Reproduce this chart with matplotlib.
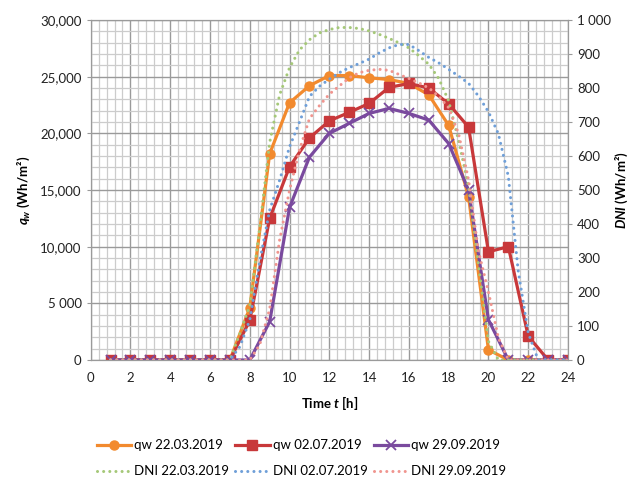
import matplotlib.pyplot as plt
from matplotlib.ticker import FixedLocator, MultipleLocator

plt.rcParams['font.family'] = ['Lato', 'DejaVu Sans']
plt.rcParams['mathtext.fontset'] = 'custom'
plt.rcParams['mathtext.it'] = 'Lato:bold:italic'
plt.rcParams['mathtext.rm'] = 'Lato:bold'

# hourly heat flux q_w (Wh/m2)
hours = list(range(1, 25))
qw_2203 = [0, 0, 0, 0, 0, 0, 0, 4600, 18200, 22700, 24200, 25100, 25100, 24900,
           24750, 24400, 23400, 20700, 14400, 900, 0, 0, 0, 0]
qw_0207 = [0, 0, 0, 0, 0, 0, 0, 3500, 12500, 17050, 19600, 21100, 21850, 22640,
           24050, 24400, 24000, 22600, 20550, 9550, 10000, 2100, 0, 0]
qw_2909 = [0, 0, 0, 0, 0, 0, 0, 0, 3380, 13470, 17900, 20000, 20880, 21760,
           22200, 21760, 21170, 19100, 14990, 3550, 0, 0, 0, 0]

# DNI (Wh/m2), read every half hour over daylight
dni_t_2203 = [1, 2, 3, 4, 5, 6, 7, 7.5, 8, 8.5, 9, 9.5, 10, 10.5, 11, 11.5, 12,
              12.5, 13, 13.5, 14, 14.5, 15, 15.5, 16, 16.5, 17, 17.5, 18, 18.5,
              19, 19.5, 20, 20.5, 21, 22, 23, 24]
dni_2203 = [0, 0, 0, 0, 0, 0, 0, 78, 160, 390, 640, 780, 860, 912, 942, 962, 972,
            978, 978, 975, 968, 958, 946, 933, 918, 895, 870, 828, 762, 645,
            510, 280, 55, 0, 0, 0, 0, 0]

dni_t_0207 = [1, 2, 3, 4, 5, 6, 7, 7.5, 8, 8.5, 9, 9.5, 10, 10.5, 11, 11.5, 12,
              12.5, 13, 13.5, 14, 14.5, 15, 15.5, 16, 16.5, 17, 17.5, 18, 18.5,
              19, 19.5, 20, 20.5, 21, 21.5, 22, 22.5, 23, 24]
dni_0207 = [0, 0, 0, 0, 0, 0, 0, 39, 118, 290, 441, 529, 627, 700, 775, 805, 826,
            845, 860, 872, 885, 903, 918, 928, 928, 910, 890, 874, 855, 835,
            814, 776, 730, 665, 540, 260, 80, 0, 0, 0]

dni_t_2909 = [1, 2, 3, 4, 5, 6, 7, 8, 8.5, 9, 9.5, 10, 10.5, 11, 11.5, 12, 12.5,
              13, 13.5, 14, 14.5, 15, 15.5, 16, 16.5, 17, 17.5, 18, 18.5, 19,
              19.5, 20, 20.5, 21, 22, 23, 24]
dni_2909 = [0, 0, 0, 0, 0, 0, 0, 0, 45, 150, 353, 500, 618, 710, 748, 782, 806,
            830, 845, 852, 855, 852, 840, 828, 815, 800, 776, 742, 665, 530,
            320, 200, 65, 0, 0, 0, 0]

left_ticks = [0, 5000, 10000, 15000, 20000, 25000, 30000]
left_labels = ['0', '5 000', '10,000', '15,000', '20,000', '25,000', '30,000']
right_ticks = [0, 100, 200, 300, 400, 500, 600, 700, 800, 900, 1000]
right_labels = ['0', '100', '200', '300', '400', '500', '600', '700', '800',
                '900', '1 000']

fig = plt.figure(figsize=(6.35, 4.8), dpi=100)
ax = fig.add_axes([0.1428, 0.25, 0.7517, 0.7083])

ax.set_xlim(0, 24)
ax.set_ylim(0, 30000)
ax.xaxis.set_major_locator(MultipleLocator(2))
ax.xaxis.set_minor_locator(MultipleLocator(0.4))
ax.yaxis.set_major_locator(FixedLocator(left_ticks))
ax.yaxis.set_minor_locator(MultipleLocator(1000))
ax.set_yticklabels(left_labels)
ax.grid(which='major', color='#9a9a9a', lw=1.0)
ax.grid(which='minor', color='#cccccc', lw=0.9)
ax.set_axisbelow(True)
for s in ax.spines.values():
    s.set_color('#9a9a9a')
ax.tick_params(which='both', length=0, labelsize=9.5, colors='#222222')
ax.tick_params(axis='x', pad=9)
ax.tick_params(axis='y', which='major', length=3, color='#9a9a9a')

ax.plot(hours, qw_2203, color='#f28a2e', lw=2.3, marker='o', ms=6.5,
        label='qw 22.03.2019', zorder=3)
ax.plot(hours, qw_0207, color='#c8383a', lw=2.3, marker='s', ms=7,
        label='qw 02.07.2019', zorder=3)
ax.plot(hours, qw_2909, color='#7a4a9e', lw=2.3, marker='x', ms=7, mew=1.3,
        label='qw 29.09.2019', zorder=3)

ax.set_xlabel('Time $t$ [h]', fontweight='bold', fontsize=9.5, labelpad=7)
ax.set_ylabel('$q_w$ (Wh/m²)', fontweight='bold', fontsize=9.5, labelpad=6)

ax2 = ax.twinx()
ax2.set_ylim(0, 1000)
ax2.yaxis.set_major_locator(FixedLocator(right_ticks))
ax2.set_yticklabels(right_labels)
ax2.tick_params(length=3, color='#9a9a9a', labelsize=9.5, colors='#222222')
for s in ax2.spines.values():
    s.set_color('#9a9a9a')

# round-capped zero-length dashes give a row of dots
dot = (0, (0.01, 2.0))
ax2.plot(dni_t_2203, dni_2203, color='#a5c878', lw=2.2, ls=dot,
         dash_capstyle='round', label='DNI 22.03.2019')
ax2.plot(dni_t_0207, dni_0207, color='#6f9fd8', lw=2.2, ls=dot,
         dash_capstyle='round', label='DNI 02.07.2019')
ax2.plot(dni_t_2909, dni_2909, color='#f0958f', lw=2.2, ls=dot,
         dash_capstyle='round', label='DNI 29.09.2019')
ax2.set_ylabel('$DNI$ (Wh/m²)', fontweight='bold', fontsize=9.5, labelpad=2)

h1, l1 = ax.get_legend_handles_labels()
h2, l2 = ax2.get_legend_handles_labels()
order_h = [h1[0], h2[0], h1[1], h2[1], h1[2], h2[2]]
order_l = [l1[0], l2[0], l1[1], l2[1], l1[2], l2[2]]
fig.legend(order_h, order_l, ncol=3, loc='center', bbox_to_anchor=(0.475, 0.045),
           frameon=False, fontsize=9.5, handlelength=2.6, columnspacing=0.45,
           handletextpad=0.25, labelspacing=1.05)

fig.savefig('out.png', dpi=100)
